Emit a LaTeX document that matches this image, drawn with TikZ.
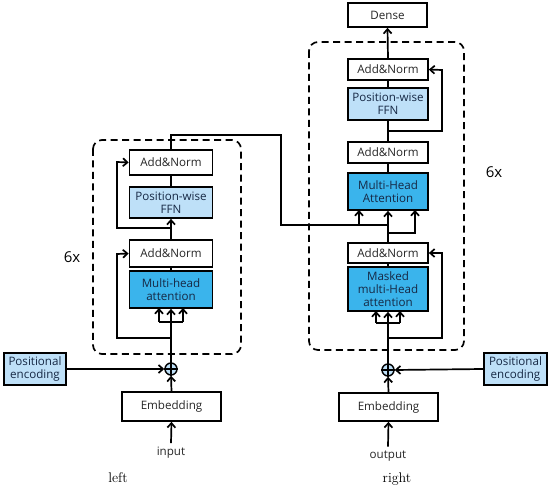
\documentclass[tikz,border=0pt]{standalone}
\usepackage{fontspec}
\newfontfamily\diagfont{Open Sans}
\usepackage{tikz}
\usetikzlibrary{positioning, arrows.meta}
\definecolor{ffnblue}{RGB}{190,224,248}
\definecolor{attblue}{RGB}{58,180,236}
\definecolor{boxtext}{RGB}{22,40,68}

\begin{document}
\begin{tikzpicture}[x=1pt, y=-1pt, >={Straight Barb[length=4.5pt, width=8pt]}, line width=1.7pt,
  block/.style={draw, line width=1.7pt, fill=white, minimum width=83pt, inner sep=1pt, align=center,
    font=\diagfont\fontsize{11.6}{13}\selectfont, text=black!85},
  ffn/.style={block, fill=ffnblue, text=boxtext},
  att/.style={block, fill=attblue, text=boxtext},
  plus/.style={circle, draw, line width=1.4pt, fill=ffnblue, minimum size=12pt, inner sep=0pt},
  stack/.style={draw, dash pattern=on 7pt off 4.5pt, line width=1.7pt, rounded corners=9pt},
  lbl/.style={font=\diagfont\fontsize{11.6}{13}\selectfont, text=black!85}]

\useasboundingbox (0,0) rectangle (550,489);

% Encoder (left)
\draw[stack] (93,140) rectangle (241,354);
\node[font=\diagfont\fontsize{15}{17}\selectfont] (lrep) at (72,257) {6x};

\node[block, minimum height=25pt] (lan2) at (171,162.5) {Add\&Norm};
\node[ffn, minimum height=31pt] (lffn) at (171,202.5) {Position-wise\\FFN};
\node[block, minimum height=27pt] (lan1) at (171,253.5) {Add\&Norm};
\node[att, minimum height=37pt] (lmha) at (171,289.5) {Multi-head\\attention};
\node[plus] (lplus) at (171,369) {};
\draw[line width=1.2pt] (lplus.north) -- (lplus.south) (lplus.west) -- (lplus.east);
\node[block, minimum width=99pt, minimum height=29pt] (lemb) at (171.5,406.5) {Embedding};
\node[ffn, minimum width=62pt, minimum height=32pt] (lpos) at (35,369) {Positional\\encoding};
\node[lbl] (lin) at (171,453) {input};
\node[font=\fontsize{14}{16}\selectfont] (lname) at (118,478) {left};

\draw[->] (lin.north) -- (lemb.south);
\draw[->] (lemb.north) -- (lplus.south);
\draw[->] (lpos.east) -- (lplus.west);
\draw[->] (lplus.north) -- (lmha.south);
\draw (159,322) -- (183,322);
\foreach \x in {159,183} {
  \draw[->] (\x,322) -- (\x,308);
}
\draw[->] (171,338) -| (117,254) -- (lan1.west);
\draw (lmha.north) -- (lan1.south);
\draw[->] (lan1.north) -- (lffn.south);
\draw[->] (171,228) -| (117,162) -- (lan2.west);
\draw (lffn.north) -- (lan2.south);

% Decoder (right)
\draw[stack] (309,42) rectangle (464,350);
\node[font=\diagfont\fontsize{15}{17}\selectfont] (rrep) at (494,172) {6x};

\node[block, minimum width=79pt, minimum height=24pt] (dense) at (387.5,15) {Dense};
\node[block, minimum width=80pt, minimum height=21pt] (ran3) at (388,69.5) {Add\&Norm};
\node[ffn, minimum width=80pt, minimum height=32pt] (rffn) at (388,104) {Position-wise\\FFN};
\node[block, minimum width=80pt, minimum height=21pt] (ran2) at (388,152.5) {Add\&Norm};
\node[att, minimum width=80pt, minimum height=37pt] (rmha) at (388,191.5) {Multi-Head\\Attention};
\node[block, minimum width=80pt, minimum height=20pt] (ran1) at (388,253) {Add\&Norm};
\node[att, minimum width=80pt, minimum height=44pt] (rmask) at (388,289) {Masked\\multi-Head\\attention};
\node[plus] (rplus) at (388,370) {};
\draw[line width=1.2pt] (rplus.north) -- (rplus.south) (rplus.west) -- (rplus.east);
\node[block, minimum width=99pt, minimum height=28pt] (remb) at (388.5,407) {Embedding};
\node[ffn, minimum width=63pt, minimum height=32pt] (rpos) at (515.5,369) {Positional\\encoding};
\node[lbl] (rout) at (388,456) {output};
\node[font=\fontsize{14}{16}\selectfont] (rname) at (397,479) {right};

\draw[->] (rout.north) -- (remb.south);
\draw[->] (remb.north) -- (rplus.south);
\draw[->] (rpos.west) -- (rplus.east);
\draw[->] (rplus.north) -- (rmask.south);
\draw (376,323) -- (400,323);
\foreach \x in {376,400} {
  \draw[->] (\x,323) -- (\x,311);
}
\draw[->] (388,338) -| (442,253) -- (ran1.east);
\draw (rmask.north) -- (ran1.south);
\draw[->] (ran1.north) -- (rmha.south);
\draw[->] (388,233) -| (415,210);
\draw (rmha.north) -- (ran2.south);
\draw (ran2.north) -- (rffn.south);
\draw[->] (388,131) -| (442,70) -- (ran3.east);
\draw (rffn.north) -- (ran3.south);
\draw[->] (ran3.north) -- (dense.south);

% Encoder output into decoder attention
\coordinate (encout) at (281,135);
\draw (lan2.north) |- (encout) |- (388,225);
\draw[->] (359,225) -- (359,210);

\end{tikzpicture}
\end{document}
